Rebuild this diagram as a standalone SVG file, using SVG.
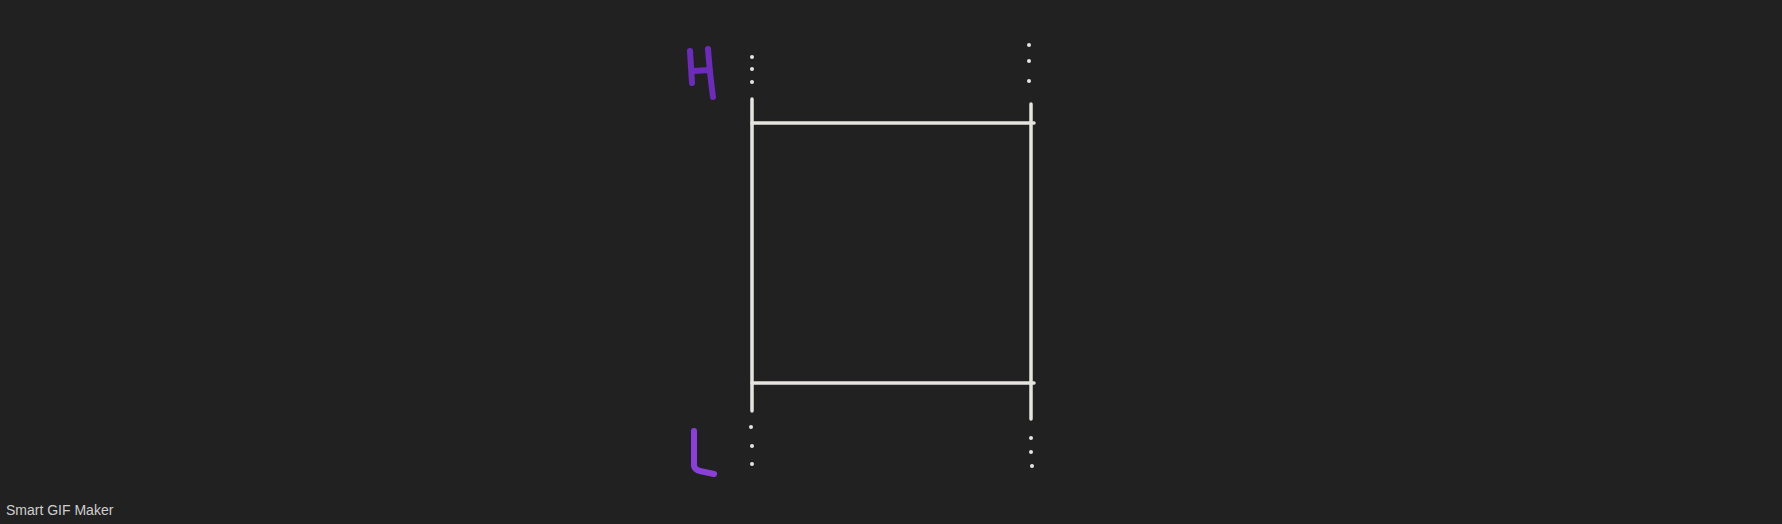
<svg xmlns="http://www.w3.org/2000/svg" width="1782" height="524" viewBox="0 0 1782 524">
<style>
.ln{stroke:#e6e4df;stroke-width:3.5;stroke-linecap:round;fill:none}
.dot{fill:#e6e4df}
.h{stroke:#6c2bba;stroke-width:6;stroke-linecap:round;stroke-linejoin:round;fill:none}
.l{stroke:#8b3fd9;stroke-width:6;stroke-linecap:round;stroke-linejoin:round;fill:none}
.wm{font-family:"Liberation Sans",Arial,sans-serif;font-size:14px;fill:#cfcfcf}
</style>
<rect width="1782" height="524" fill="#212121"/>
<g id="connectors">
<line class="ln" x1="752" y1="99" x2="752" y2="411"/>
<line class="ln" x1="1031" y1="104" x2="1031" y2="419"/>
<line class="ln" x1="752" y1="123" x2="1034" y2="123"/>
<line class="ln" x1="752" y1="383" x2="1034" y2="383"/>
</g>
<g id="dots-top-left"><circle class="dot" cx="752" cy="57" r="2"/><circle class="dot" cx="752" cy="69" r="2"/><circle class="dot" cx="752" cy="82" r="2"/></g>
<g id="dots-top-right"><circle class="dot" cx="1029" cy="45" r="2"/><circle class="dot" cx="1029" cy="61" r="2"/><circle class="dot" cx="1029" cy="81" r="2"/></g>
<g id="dots-bottom-left"><circle class="dot" cx="751" cy="427" r="2"/><circle class="dot" cx="752" cy="446" r="2"/><circle class="dot" cx="752" cy="464" r="2"/></g>
<g id="dots-bottom-right"><circle class="dot" cx="1031" cy="438" r="2"/><circle class="dot" cx="1031" cy="452" r="2"/><circle class="dot" cx="1032" cy="466" r="2"/></g>
<g id="label-H"><path class="h" d="M690 51 L692 83 M708 49 Q710 75 713 97 M693 71 L709 70"/></g>
<g id="label-L"><path class="l" d="M694 431 L694 466 Q695 470 700 471 L714 474"/></g>
<text class="wm" x="6" y="515">Smart GIF Maker</text>
</svg>
